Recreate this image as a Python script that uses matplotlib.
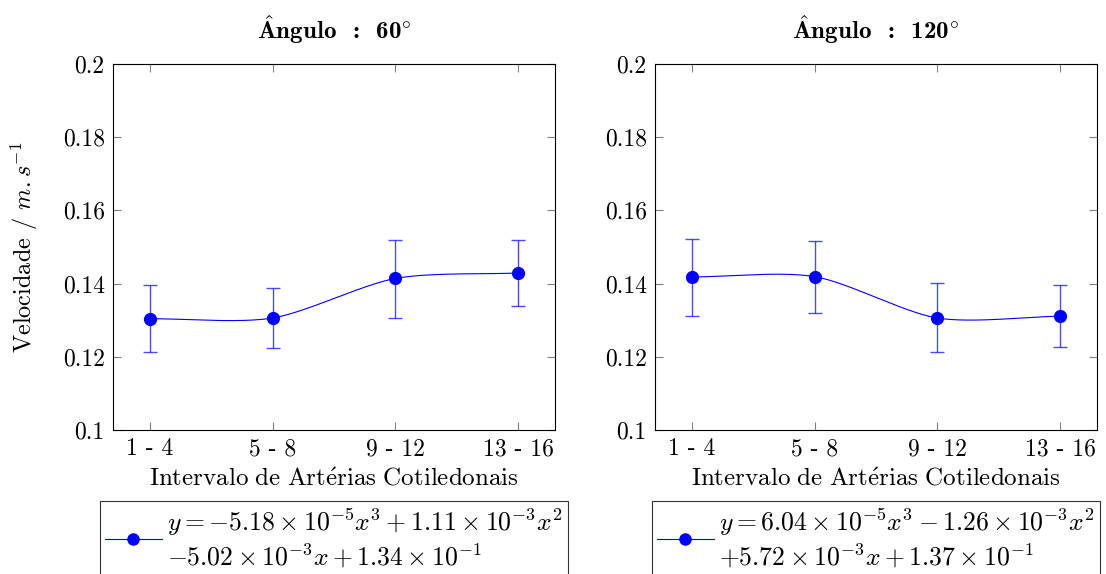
import numpy as np
import matplotlib
matplotlib.use("Agg")
import matplotlib.pyplot as plt

plt.rcParams['font.family'] = 'serif'
plt.rcParams['font.serif'] = ['cmr10']
plt.rcParams['mathtext.fontset'] = 'custom'
plt.rcParams['mathtext.rm'] = 'cmr10'
plt.rcParams['mathtext.it'] = 'cmmi10'
plt.rcParams['mathtext.bf'] = 'cmb10'
plt.rcParams['mathtext.fallback'] = 'cm'
plt.rcParams['axes.formatter.use_mathtext'] = True

categories = ['1 - 4', '5 - 8', '9 - 12', '13 - 16']
vel_60 = [0.1304, 0.1306, 0.1414, 0.1429]
top_60 = [0.1397, 0.1387, 0.1520, 0.1518]
bot_60 = [0.1213, 0.1225, 0.1307, 0.1338]
vel_120 = [0.1418, 0.1419, 0.1306, 0.1311]
top_120 = [0.1523, 0.1517, 0.1401, 0.1395]
bot_120 = [0.1311, 0.1320, 0.1212, 0.1227]

titles = [r'$\mathbf{\hat{A}ngulo}\;\;\mathbf{:}\;\;\mathbf{60}^{\circ}$',
          r'$\mathbf{\hat{A}ngulo}\;\;\mathbf{:}\;\;\mathbf{120}^{\circ}$']
labels = [
    '$y = -5.18 \\times 10^{-5}x^3 + 1.11 \\times 10^{-3}x^2$\n$-5.02 \\times 10^{-3}x + 1.34 \\times 10^{-1}$',
    '$y = 6.04 \\times 10^{-5}x^3 - 1.26 \\times 10^{-3}x^2$\n$+5.72 \\times 10^{-3}x + 1.37 \\times 10^{-1}$',
]


def smooth(xs, ys, n=60, t=0.55):
    # cubic bezier through the points, like pgfplots "smooth"
    xs = np.asarray(xs, float)
    ys = np.asarray(ys, float)
    m = len(xs)
    tx = np.zeros(m)
    ty = np.zeros(m)
    for i in range(m):
        a = max(i - 1, 0)
        b = min(i + 1, m - 1)
        f = t / 4 if (a != i and b != i) else t / 2
        tx[i] = (xs[b] - xs[a]) * f
        ty[i] = (ys[b] - ys[a]) * f
    ox, oy = [], []
    s = np.linspace(0, 1, n)
    for i in range(m - 1):
        p0 = (xs[i], ys[i])
        p3 = (xs[i + 1], ys[i + 1])
        p1 = (xs[i] + tx[i], ys[i] + ty[i])
        p2 = (xs[i + 1] - tx[i + 1], ys[i + 1] - ty[i + 1])
        for k in range(2):
            c = [p0[k], p1[k], p2[k], p3[k]]
            v = ((1 - s) ** 3 * c[0] + 3 * (1 - s) ** 2 * s * c[1]
                 + 3 * (1 - s) * s ** 2 * c[2] + s ** 3 * c[3])
            (ox if k == 0 else oy).extend(v)
    return ox, oy


fig = plt.figure(figsize=(11.06, 5.74), dpi=100)
ax1 = fig.add_axes([0.1022, 0.2509, 0.3996, 0.6376])
ax2 = fig.add_axes([0.5922, 0.2509, 0.3996, 0.6376])

x = np.arange(1, 5)
for ax, v, tp, bt, ttl, lab in [(ax1, vel_60, top_60, bot_60, titles[0], labels[0]),
                                (ax2, vel_120, top_120, bot_120, titles[1], labels[1])]:
    err = [np.array(v) - np.array(bt), np.array(tp) - np.array(v)]
    ax.errorbar(x, v, yerr=err, fmt='none', ecolor='blue', elinewidth=1.0,
                capsize=5, capthick=1.0, alpha=0.7)
    sx, sy = smooth(x, v)
    ax.plot(sx, sy, color='blue', lw=0.8)
    ax.plot(x, v, 'o', color='blue', ms=8.5)
    ax.plot([], [], '-o', color='blue', ms=8, lw=0.8, label=lab)
    ax.set_xlim(0.7, 4.3)
    ax.set_ylim(0.1, 0.2)
    ax.set_xticks(x)
    ax.set_xticklabels(categories)
    ax.set_yticks([0.1, 0.12, 0.14, 0.16, 0.18, 0.2])
    ax.set_yticklabels(['0.1', '0.12', '0.14', '0.16', '0.18', '0.2'])
    ax.tick_params(direction='in', top=True, right=True, length=6, color='#808080',
                   labelsize=17, pad=6)
    ax.set_title(ttl, fontsize=18, pad=18)
    ax.set_xlabel(r'$\mathrm{Intervalo\ de\ Art\acute{e}rias\ Cotiledonais}$', fontsize=18, labelpad=5)
    leg = ax.legend(loc='upper center', bbox_to_anchor=(0.5, -0.195), fontsize=18.5,
                    frameon=True, fancybox=False, edgecolor='black', handlelength=2.2,
                    handletextpad=0.2, borderpad=0.2, borderaxespad=0, labelspacing=0.1)
    leg.get_frame().set_linewidth(0.8)

ax1.set_ylabel('Velocidade / $m.s^{-1}$', fontsize=17.5, labelpad=16)

fig.savefig('out.png', dpi=100)
